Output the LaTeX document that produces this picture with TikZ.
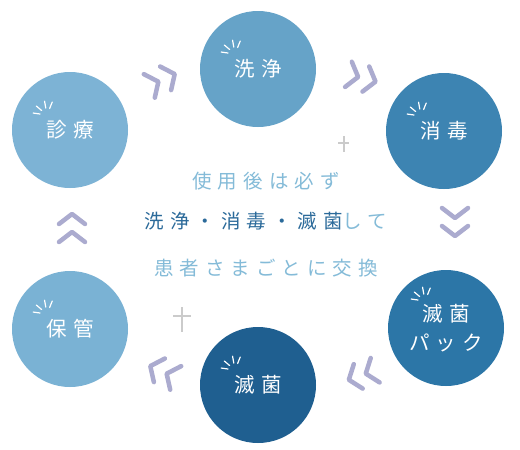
\documentclass[tikz,border=0pt]{standalone}
\usepackage{fontspec}
\usepackage{xcolor}
\setmainfont{Noto Sans CJK JP}
\definecolor{stageShinryo}{HTML}{7DB3D5}
\definecolor{stageSenjo}{HTML}{66A3C8}
\definecolor{stageShodoku}{HTML}{3D84B2}
\definecolor{stagePack}{HTML}{2C76A7}
\definecolor{stageMekkin}{HTML}{1F5F90}
\definecolor{stageHokan}{HTML}{7AB2D4}
\definecolor{chevGray}{HTML}{ABABCF}
\definecolor{plusGray}{HTML}{CBCBCB}
\definecolor{textLight}{HTML}{84BBD8}
\definecolor{textDark}{HTML}{2B6A9A}
\usetikzlibrary{calc}

\tikzset{
  stage/.style={circle, minimum size=116pt, inner sep=0pt, text=white, align=center,
    font=\fontsize{20.5}{29}\selectfont\addfontfeature{LetterSpace=30}},
  note/.style={font=\fontsize{19.5}{24}\selectfont\addfontfeature{LetterSpace=31}, text=textLight, inner sep=0pt},
  chev/.style={draw=chevGray, line width=4.5pt, line cap=round, line join=round},
  spark/.style={draw=white, line width=1.2pt, line cap=round},
  plus/.style={draw=plusGray, line width=2.4pt},
  pics/sparkle/.style={code={
    \foreach \a in {172,140,100,68}
      \draw[spark] (\a:7pt) -- (\a:14pt);
  }},
  pics/dblchev/.style={code={
    \foreach \t/\b in {-4/-14,14/4}
      \draw[chev] (\b pt,13pt) -- (\t pt,0pt) -- (\b pt,-13pt);
  }},
}

\begin{document}
\begin{tikzpicture}[x=1pt,y=-1pt]
  \useasboundingbox[fill=white] (0,0) rectangle (520,450);

  % stages
  \node[stage, fill=stageShinryo] (shinryo) at (70,130) {診療};
  \node[stage, fill=stageSenjo]   (senjo)   at (258,69) {洗浄};
  \node[stage, fill=stageShodoku] (shodoku) at (444,131) {消毒};
  \node[stage, fill=stagePack]    (pack)    at (446,328) {滅菌\\パック};
  \node[stage, fill=stageMekkin]  (mekkin)  at (258,385) {滅菌};
  \node[stage, fill=stageHokan]   (hokan)   at (70,329) {保管};

  % sparkles
  \foreach \s in {shinryo,senjo,shodoku,mekkin,hokan}
    \pic at ($(\s)+(-23,-15)$) {sparkle};
  \pic at ($(pack)+(-21,-27)$) {sparkle};

  % arrows between stages
  \pic[rotate=25]  at (162,80)  {dblchev};
  \pic[rotate=-15] at (362,78)  {dblchev};
  \pic[rotate=-90] at (455,222) {dblchev};
  \pic[rotate=200] at (362,375) {dblchev};
  \pic[rotate=155] at (163,372) {dblchev};
  \pic[rotate=90]  at (72,228)  {dblchev};

  % crosses
  \draw[plus] (338,143) -- (349,143);
  \draw[plus] (344,136) -- (344,152);
  \draw[plus] (173,316) -- (191,316);
  \draw[plus] (182,307) -- (182,332);

  % centre text
  \node[note] (line1) at (266,181) {使用後は必ず};
  \node[note] (line2) at (266,221) {{\color{textDark}洗浄・消毒・滅菌}して};
  \node[note] (line3) at (266,268) {患者さまごとに交換};
\end{tikzpicture}
\end{document}
